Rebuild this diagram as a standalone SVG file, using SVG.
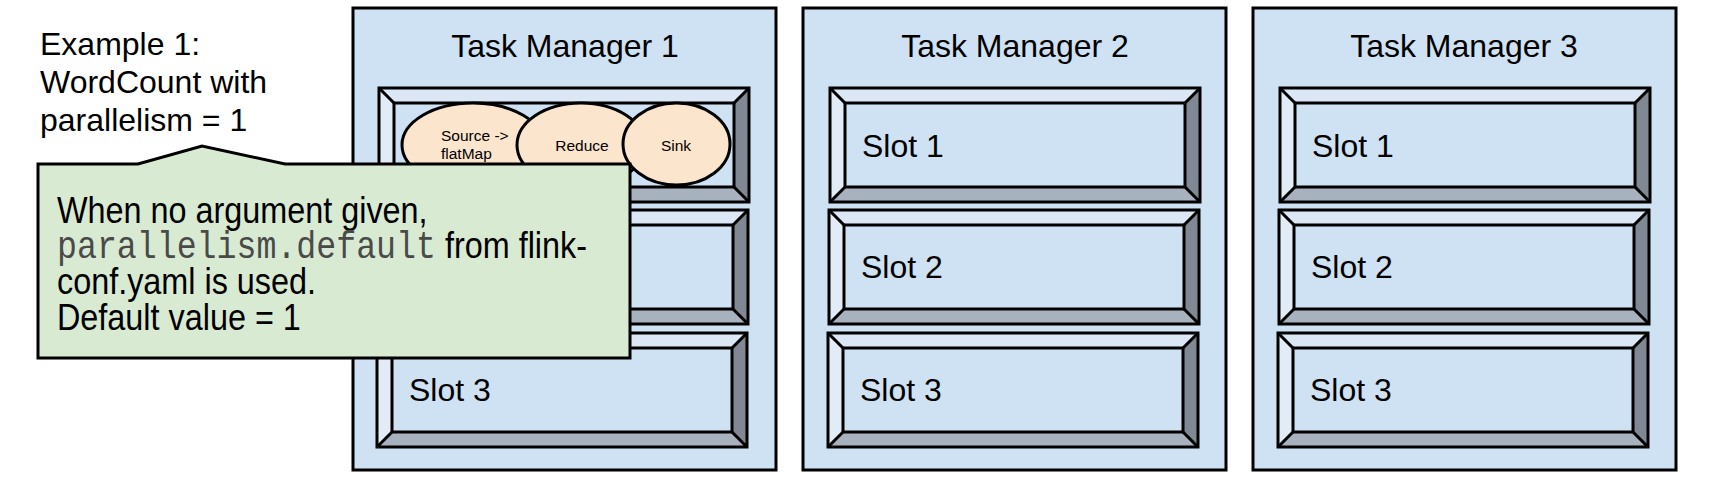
<svg xmlns="http://www.w3.org/2000/svg" xmlns:xlink="http://www.w3.org/1999/xlink" width="1720" height="482" viewBox="0 0 1720 482">
<style>
text{font-family:"Liberation Sans",Arial,sans-serif;fill:#000}
.tm{fill:#cfe2f3;stroke:#000;stroke-width:3}
.title{font-size:32px;text-anchor:middle}
.slotlbl{font-size:32px}
.ln{fill:none;stroke:#000;stroke-width:3;stroke-linejoin:miter}
.op{fill:#fce5cd;stroke:#000;stroke-width:3}
.opl{font-size:15.5px}
.mono{font-family:"Liberation Mono","Courier New",monospace;fill:#4a4a4a}
</style>
<defs>
<g id="slotShape">
<polygon points="0,0 370,0 355,15 15,15" fill="#dbe7f5"/>
<polygon points="0,0 15,15 15,99 0,114" fill="#e2ecf7"/>
<polygon points="370,0 370,114 355,99 355,15" fill="#7f8893"/>
<polygon points="0,114 15,99 355,99 370,114" fill="#a8b2be"/>
<rect x="15" y="15" width="340" height="84" fill="#cfe2f3"/>
<rect x="0" y="0" width="370" height="114" class="ln"/>
<rect x="15" y="15" width="340" height="84" class="ln"/>
<path d="M0,0 L15,15 M370,0 L355,15 M370,114 L355,99 M0,114 L15,99" class="ln"/>
</g>
</defs>
<rect width="1720" height="482" fill="#fff"/>
<g id="example-label">
<text x="40" y="55" font-size="32">Example 1:</text>
<text x="40" y="93" font-size="32">WordCount with</text>
<text x="40" y="131" font-size="32">parallelism = 1</text>
</g>
<g id="tm1">
<rect class="tm" x="353" y="8" width="423" height="462"/>
<text class="title" x="565" y="57">Task Manager 1</text>
<g id="tm1-slot1"><use xlink:href="#slotShape" x="379" y="88"/></g>
<g id="tm1-slot2"><use xlink:href="#slotShape" x="378" y="210"/></g>
<g id="tm1-slot3"><use xlink:href="#slotShape" x="377" y="333"/><text class="slotlbl" x="409" y="401">Slot 3</text></g>
</g>
<g id="tm2">
<rect class="tm" x="803" y="8" width="423" height="462"/>
<text class="title" x="1015" y="57">Task Manager 2</text>
<g id="tm2-slot1"><use xlink:href="#slotShape" x="830" y="88"/><text class="slotlbl" x="862" y="157">Slot 1</text></g>
<g id="tm2-slot2"><use xlink:href="#slotShape" x="829" y="210"/><text class="slotlbl" x="861" y="278">Slot 2</text></g>
<g id="tm2-slot3"><use xlink:href="#slotShape" x="828" y="333"/><text class="slotlbl" x="860" y="401">Slot 3</text></g>
</g>
<g id="tm3">
<rect class="tm" x="1253" y="8" width="423" height="462"/>
<text class="title" x="1464" y="57">Task Manager 3</text>
<g id="tm3-slot1"><use xlink:href="#slotShape" x="1280" y="88"/><text class="slotlbl" x="1312" y="157">Slot 1</text></g>
<g id="tm3-slot2"><use xlink:href="#slotShape" x="1279" y="210"/><text class="slotlbl" x="1311" y="278">Slot 2</text></g>
<g id="tm3-slot3"><use xlink:href="#slotShape" x="1278" y="333"/><text class="slotlbl" x="1310" y="401">Slot 3</text></g>
</g>
<g id="op-source">
<ellipse class="op" cx="473" cy="145" rx="71" ry="42"/>
<text class="opl" x="441" y="141">Source -&gt;</text>
<text class="opl" x="441" y="159">flatMap</text>
</g>
<g id="op-reduce">
<ellipse class="op" cx="581" cy="145" rx="64" ry="42"/>
<text class="opl" x="582" y="151" text-anchor="middle">Reduce</text>
</g>
<g id="op-sink">
<ellipse class="op" cx="676.5" cy="144" rx="53.5" ry="41"/>
<text class="opl" x="676" y="151" text-anchor="middle">Sink</text>
</g>
<g id="connectors"></g>
<g id="callout">
<path d="M38,164 L138,164 L202,146 L285,164 L630,164 L630,358 L38,358 Z" fill="#d9ead3" stroke="#000" stroke-width="3" stroke-linejoin="miter"/>
<g transform="translate(57,0) scale(0.875,1)">
<text x="0" y="223" font-size="37">When no argument given,</text>
<text x="0" y="258" font-size="37"><tspan class="mono" font-size="38">parallelism.default</tspan> from flink-</text>
<text x="0" y="294" font-size="37">conf.yaml is used.</text>
<text x="0" y="330" font-size="37">Default value = 1</text>
</g>
</g>
</svg>
